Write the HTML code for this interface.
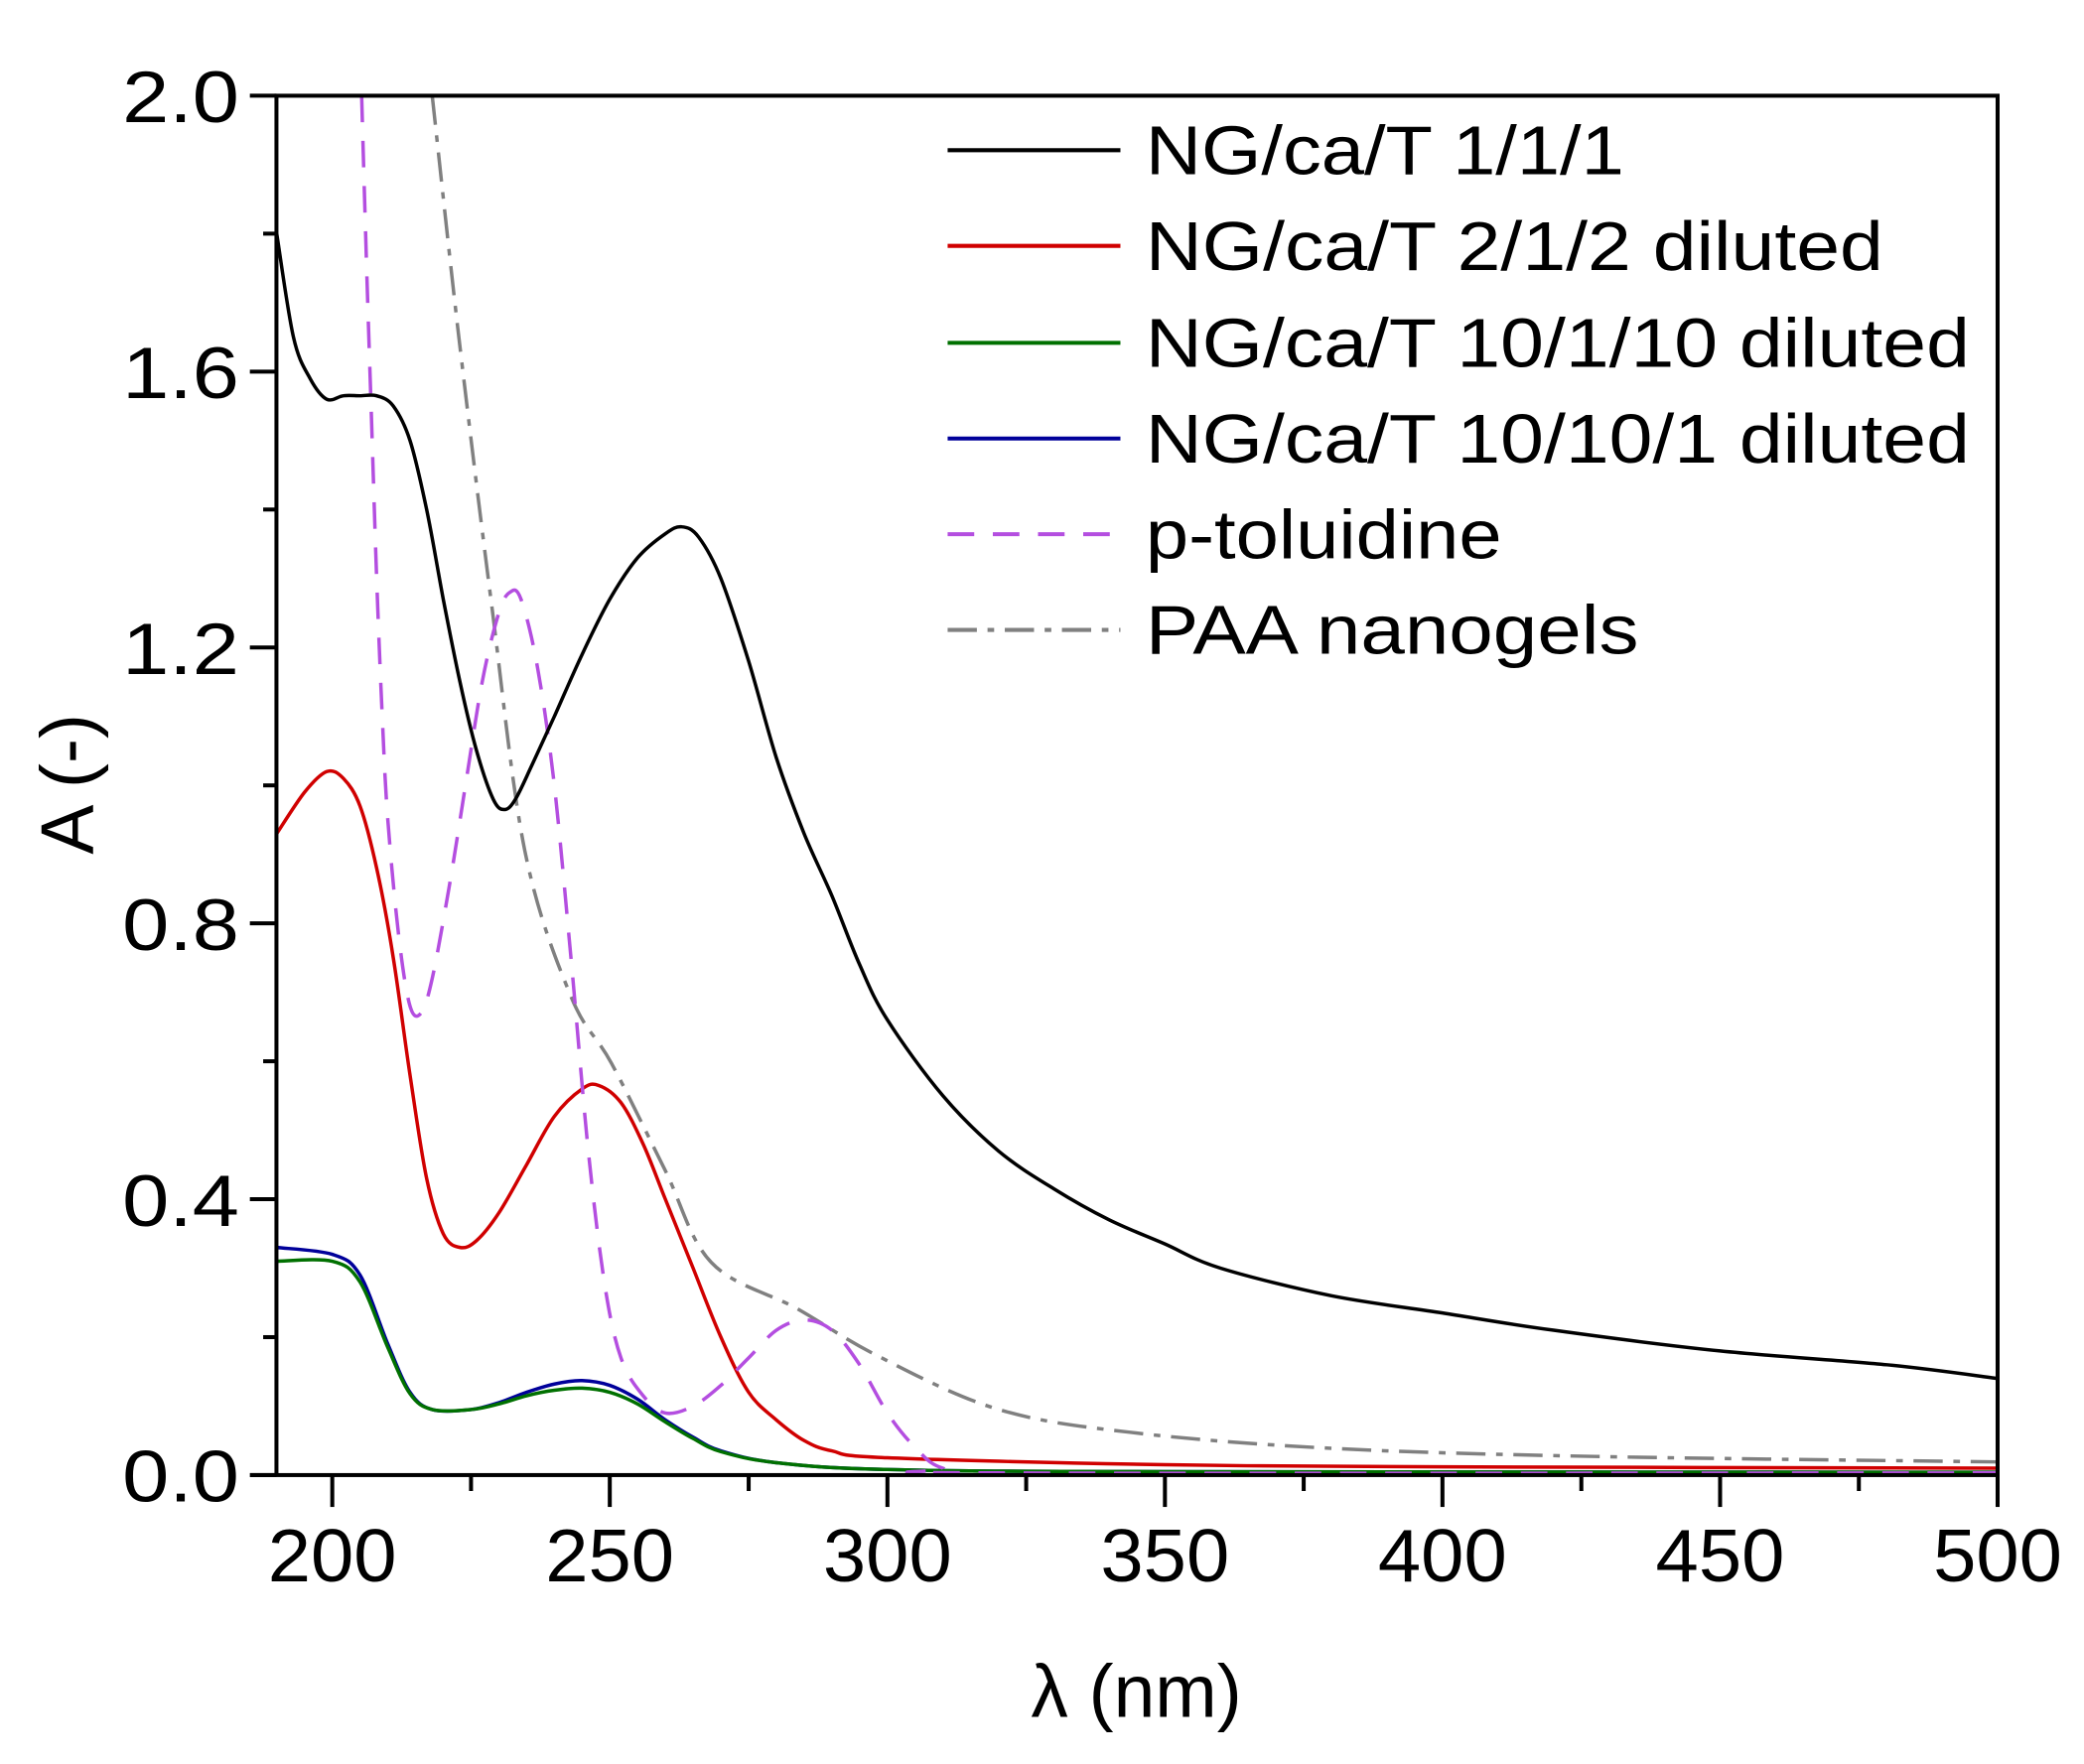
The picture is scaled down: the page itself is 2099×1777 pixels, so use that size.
<!DOCTYPE html>
<html><head><meta charset="utf-8"><style>
html,body{margin:0;padding:0;background:#fff}
svg{display:block}
text{font-family:"Liberation Sans",Arial,sans-serif;fill:#000}
</style></head><body>
<svg id="s" width="2099" height="1777" viewBox="0 0 1568 1327.4" xmlns="http://www.w3.org/2000/svg">
<rect width="1568" height="1328" fill="#fff"/>
<g id="curves" fill="none" stroke-linejoin="round"></g>
<g stroke="#000" stroke-width="3" fill="none">
<rect x="208" y="72" width="1295" height="1038"/>
<line x1="188" y1="72" x2="208" y2="72"/>
<line x1="188" y1="279.6" x2="208" y2="279.6"/>
<line x1="188" y1="487.2" x2="208" y2="487.2"/>
<line x1="188" y1="694.8" x2="208" y2="694.8"/>
<line x1="188" y1="902.4" x2="208" y2="902.4"/>
<line x1="188" y1="1110" x2="208" y2="1110"/>
<line x1="198" y1="175.8" x2="208" y2="175.8"/>
<line x1="198" y1="383.4" x2="208" y2="383.4"/>
<line x1="198" y1="591" x2="208" y2="591"/>
<line x1="198" y1="798.6" x2="208" y2="798.6"/>
<line x1="198" y1="1006.2" x2="208" y2="1006.2"/>
<line x1="250" y1="1110" x2="250" y2="1134"/>
<line x1="458.8" y1="1110" x2="458.8" y2="1134"/>
<line x1="667.7" y1="1110" x2="667.7" y2="1134"/>
<line x1="876.5" y1="1110" x2="876.5" y2="1134"/>
<line x1="1085.3" y1="1110" x2="1085.3" y2="1134"/>
<line x1="1294.2" y1="1110" x2="1294.2" y2="1134"/>
<line x1="1503" y1="1110" x2="1503" y2="1134"/>
<line x1="354.4" y1="1110" x2="354.4" y2="1122"/>
<line x1="563.3" y1="1110" x2="563.3" y2="1122"/>
<line x1="772.1" y1="1110" x2="772.1" y2="1122"/>
<line x1="980.9" y1="1110" x2="980.9" y2="1122"/>
<line x1="1189.8" y1="1110" x2="1189.8" y2="1122"/>
<line x1="1398.6" y1="1110" x2="1398.6" y2="1122"/>
</g>
<g font-size="55" text-anchor="end">
<text x="180" y="92" textLength="88" lengthAdjust="spacingAndGlyphs">2.0</text>
<text x="180" y="299.6" textLength="88" lengthAdjust="spacingAndGlyphs">1.6</text>
<text x="180" y="507.2" textLength="88" lengthAdjust="spacingAndGlyphs">1.2</text>
<text x="180" y="714.8" textLength="88" lengthAdjust="spacingAndGlyphs">0.8</text>
<text x="180" y="922.4" textLength="88" lengthAdjust="spacingAndGlyphs">0.4</text>
<text x="180" y="1130" textLength="88" lengthAdjust="spacingAndGlyphs">0.0</text>
</g>
<g font-size="56" text-anchor="middle">
<text x="250" y="1190" textLength="97" lengthAdjust="spacingAndGlyphs">200</text>
<text x="458.8" y="1190" textLength="97" lengthAdjust="spacingAndGlyphs">250</text>
<text x="667.7" y="1190" textLength="97" lengthAdjust="spacingAndGlyphs">300</text>
<text x="876.5" y="1190" textLength="97" lengthAdjust="spacingAndGlyphs">350</text>
<text x="1085.3" y="1190" textLength="97" lengthAdjust="spacingAndGlyphs">400</text>
<text x="1294.2" y="1190" textLength="97" lengthAdjust="spacingAndGlyphs">450</text>
<text x="1503" y="1190" textLength="97" lengthAdjust="spacingAndGlyphs">500</text>
<text x="855" y="1292">λ (nm)</text>
<text transform="translate(70,590) rotate(-90)">A (-)</text>
</g>
<g stroke-width="3" fill="none">
<line x1="713" y1="113" x2="843" y2="113" stroke="#000"/>
<line x1="713" y1="185" x2="843" y2="185" stroke="#d00000"/>
<line x1="713" y1="258" x2="843" y2="258" stroke="#007000"/>
<line x1="713" y1="330" x2="843" y2="330" stroke="#00009a"/>
<line x1="713" y1="402" x2="843" y2="402" stroke="#b44ee0" stroke-dasharray="20,14"/>
<line x1="713" y1="474" x2="843" y2="474" stroke="#808080" stroke-dasharray="22,8,5,8"/>
</g>
<g font-size="52">
<text x="862" y="131" textLength="360" lengthAdjust="spacingAndGlyphs">NG/ca/T 1/1/1</text>
<text x="862" y="203" textLength="555" lengthAdjust="spacingAndGlyphs">NG/ca/T 2/1/2 diluted</text>
<text x="862" y="276" textLength="620" lengthAdjust="spacingAndGlyphs">NG/ca/T 10/1/10 diluted</text>
<text x="862" y="348" textLength="620" lengthAdjust="spacingAndGlyphs">NG/ca/T 10/10/1 diluted</text>
<text x="862" y="420" textLength="268" lengthAdjust="spacingAndGlyphs">p-toluidine</text>
<text x="862" y="492" textLength="371" lengthAdjust="spacingAndGlyphs">PAA nanogels</text>
</g>
</svg>
<script>
function X(n){return 250+(n-200)*4.1767;}
function Y(a){return 1110-a*519;}
function path(d){
 var p=[];for(var i=0;i<d.length;i+=2)p.push([X(d[i]),Y(d[i+1])]);
 var s="M"+p[0][0].toFixed(1)+","+p[0][1].toFixed(1);
 for(var i=0;i<p.length-1;i++){
  var p0=p[i-1]||p[i],p1=p[i],p2=p[i+1],p3=p[i+2]||p2;
  var c1=[p1[0]+(p2[0]-p0[0])/6,p1[1]+(p2[1]-p0[1])/6];
  var c2=[p2[0]-(p3[0]-p1[0])/6,p2[1]-(p3[1]-p1[1])/6];
  s+="C"+c1[0].toFixed(1)+","+c1[1].toFixed(1)+" "+c2[0].toFixed(1)+","+c2[1].toFixed(1)+" "+p2[0].toFixed(1)+","+p2[1].toFixed(1);
 }
 return s;
}
var series=[
 {c:"#808080",da:"22,8,5,8",d:[218,2.0,222.7,1.657,228.7,1.262,234.7,0.905,243,0.694,250.3,0.597,259.9,0.443,268.3,0.308,283.8,0.241,298.2,0.173,319.7,0.096,343.7,0.062,379.6,0.039,427.5,0.027,500,0.019]},
 {c:"#00009a",d:[190,0.33,200,0.32,205,0.29,210,0.19,214,0.12,218,0.095,225,0.095,230,0.105,235,0.12,240,0.132,245,0.137,250,0.13,255,0.11,260,0.08,265,0.055,270,0.035,280,0.018,300,0.008,350,0.005,500,0.004]},
 {c:"#007000",d:[190,0.31,200,0.31,205,0.28,210,0.185,214,0.118,218,0.095,225,0.095,230,0.103,235,0.115,240,0.123,245,0.126,250,0.12,255,0.103,260,0.077,265,0.053,270,0.034,280,0.018,300,0.008,350,0.005,500,0.004]},
 {c:"#d00000",d:[190,0.93,195,0.99,199,1.02,202,1.01,205,0.97,208,0.88,211,0.75,214,0.58,217,0.43,220,0.35,223,0.33,226,0.34,230,0.38,235,0.45,240,0.52,245,0.56,248,0.565,252,0.54,256,0.48,260,0.40,265,0.30,270,0.20,275,0.12,280,0.08,285,0.05,290,0.035,300,0.025,350,0.015,400,0.012,500,0.01]},
 {c:"#b44ee0",da:"20,14",d:[205.3,2.0,206,1.8,207,1.55,208,1.3,209,1.1,210,0.95,212,0.78,214,0.68,216,0.67,218,0.72,221,0.85,224,1.0,227,1.15,230,1.25,232,1.28,234,1.27,237,1.17,240,1.0,243,0.75,246,0.48,249,0.28,252,0.17,256,0.115,260,0.09,265,0.1,270,0.13,275,0.17,280,0.21,285,0.225,290,0.21,295,0.16,300,0.09,305,0.04,310,0.01,320,0.003,500,0.003]},
 {c:"#000",d:[190,1.80,193,1.65,196,1.59,199,1.56,202,1.565,205,1.565,208,1.565,211,1.55,214,1.50,217,1.40,220,1.27,223,1.15,226,1.05,229,0.98,231,0.965,233,0.98,236,1.03,240,1.10,245,1.19,250,1.27,255,1.33,260,1.365,263,1.375,266,1.36,270,1.30,275,1.18,280,1.04,285,0.93,290,0.84,295,0.74,300,0.66,310,0.55,320,0.47,330,0.415,340,0.37,350,0.335,360,0.30,380,0.26,400,0.235,420,0.21,450,0.18,480,0.16,500,0.14]}
];
var g=document.getElementById("curves"),ns="http://www.w3.org/2000/svg";
series.forEach(function(s){var e=document.createElementNS(ns,"path");e.setAttribute("d",path(s.d));e.setAttribute("stroke",s.c);e.setAttribute("stroke-width","2.6");if(s.da)e.setAttribute("stroke-dasharray",s.da);g.appendChild(e);});
</script>
</body></html>
